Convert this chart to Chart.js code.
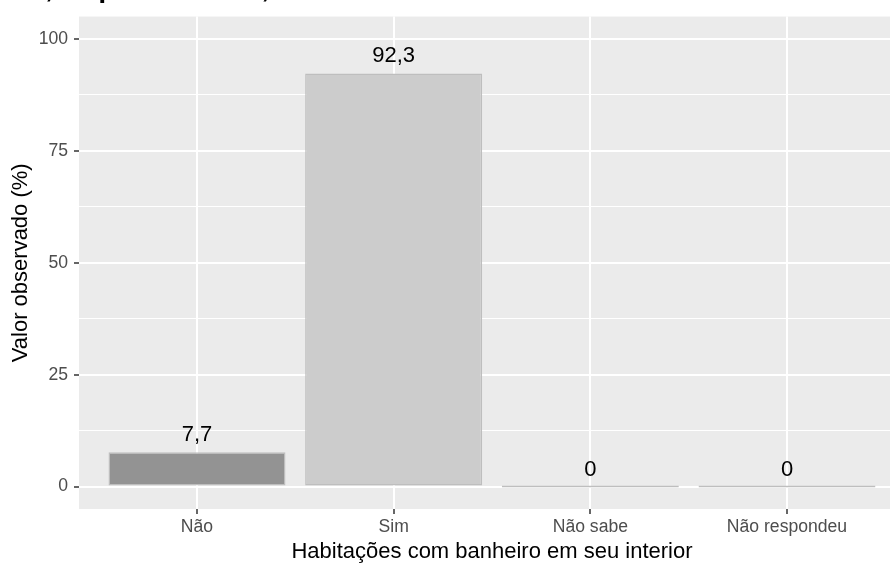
<!DOCTYPE html>
<html>
<head>
<meta charset="utf-8">
<script src="https://cdn.jsdelivr.net/npm/chart.js@4/dist/chart.umd.min.js"></script>
<style>
  html, body { margin: 0; padding: 0; background: #fff; overflow: hidden; }
  #wrap { position: absolute; left: 0; top: 0; width: 906px; height: 565px; }
</style>
</head>
<body>
<div id="wrap"><canvas id="chartDisplay" width="906" height="565"></canvas></div>
<script>
// data
const categories = ['Não', 'Sim', 'Não sabe', 'Não respondeu'];
const values = [7.7, 92.3, 0, 0];
const barColors = ['#939393', '#cccccc', '#b4b4b4', '#b4b4b4'];
const yTicks = [0, 12.5, 25, 37.5, 50, 62.5, 75, 87.5, 100];
const chartTitle = 'Cidade, Riqueza do Sul, 2010';

const FONT = '"Liberation Sans", Arial, sans-serif';
const chartDisplay = document.getElementById('chartDisplay');

// grey panel behind everything
const panelBg = {
    id: 'panelBg',
    beforeDraw(chart) {
        const {ctx, chartArea: a} = chart;
        ctx.save();
        ctx.fillStyle = '#ebebeb';
        ctx.fillRect(a.left, a.top, a.right - a.left, a.bottom - a.top);
        ctx.restore();
    }
};

// numbers above the bars, with decimal comma
const barLabels = {
    id: 'barLabels',
    afterDatasetsDraw(chart) {
        const {ctx} = chart;
        const meta = chart.getDatasetMeta(0);
        const yScale = chart.scales.y;
        ctx.save();
        ctx.font = '22px ' + FONT;
        ctx.fillStyle = '#000';
        ctx.textAlign = 'center';
        ctx.textBaseline = 'middle';
        meta.data.forEach((bar, i) => {
            const txt = String(values[i]).replace('.', ',');
            ctx.fillText(txt, bar.x, yScale.getPixelForValue(values[i]) - 17);
        });
        ctx.restore();
    }
};

// title is cut off at the top of the picture
const topTitle = {
    id: 'topTitle',
    afterDraw(chart) {
        const {ctx} = chart;
        ctx.save();
        ctx.font = 'bold 28px ' + FONT;
        ctx.fillStyle = '#000';
        ctx.textAlign = 'left';
        ctx.textBaseline = 'alphabetic';
        ctx.fillText(chartTitle, -48, -3);
        ctx.restore();
    }
};

let chart = new Chart(chartDisplay, {
    type: 'bar',
    data: {
        datasets: [{
            data: values.map((v, i) => ({x: i + 1, y: v})),
            backgroundColor: barColors,
            borderColor: '#bebebe',
            borderWidth: 1.5,
            borderSkipped: false,
            minBarLength: 2,
            categoryPercentage: 1,
            barPercentage: 0.9
        }]
    },
    options: {
        responsive: false,
        animation: false,
        layout: { padding: { top: 14, right: 1, left: 0, bottom: 0 } },
        plugins: {
            legend: { display: false },
            tooltip: { enabled: false }
        },
        scales: {
            x: {
                type: 'linear',
                min: 0.4,
                max: 4.6,
                offset: false,
                afterBuildTicks: (s) => { s.ticks = categories.map((c, i) => ({value: i + 1})); },
                afterFit: (s) => { s.height = 56; },
                border: { display: false },
                grid: {
                    offset: false,
                    color: '#ffffff',
                    lineWidth: 2,
                    drawTicks: true,
                    tickLength: 5,
                    tickColor: '#333333',
                    tickWidth: 1.5
                },
                ticks: {
                    autoSkip: false,
                    maxRotation: 0,
                    padding: 3,
                    color: '#4d4d4d',
                    font: { family: FONT, size: 17.6 },
                    callback: (v) => categories[Math.round(v) - 1]
                },
                title: {
                    display: true,
                    text: 'Habitações com banheiro em seu interior',
                    color: '#000',
                    font: { family: FONT, size: 22 },
                    padding: { top: 0, bottom: 0 }
                }
            },
            y: {
                min: -5,
                max: 105,
                afterBuildTicks: (s) => { s.ticks = yTicks.map(v => ({value: v})); },
                afterFit: (s) => { s.width = 79; },
                border: { display: false },
                grid: {
                    color: '#ffffff',
                    lineWidth: (c) => (c.tick && c.tick.value % 25 === 0) ? 2 : 1,
                    drawTicks: true,
                    tickLength: 5,
                    tickColor: (c) => (c.tick && c.tick.value % 25 === 0) ? '#333333' : 'rgba(0,0,0,0)',
                    tickWidth: 1.5
                },
                ticks: {
                    autoSkip: false,
                    padding: 6,
                    color: '#4d4d4d',
                    font: { family: FONT, size: 17.6 },
                    callback: (v) => (v % 25 === 0) ? String(v) : ''
                },
                title: {
                    display: true,
                    text: 'Valor observado (%)',
                    color: '#000',
                    font: { family: FONT, size: 22 },
                    padding: { top: 8, bottom: 0 }
                }
            }
        }
    },
    plugins: [panelBg, barLabels, topTitle]
});
</script>
</body>
</html>
